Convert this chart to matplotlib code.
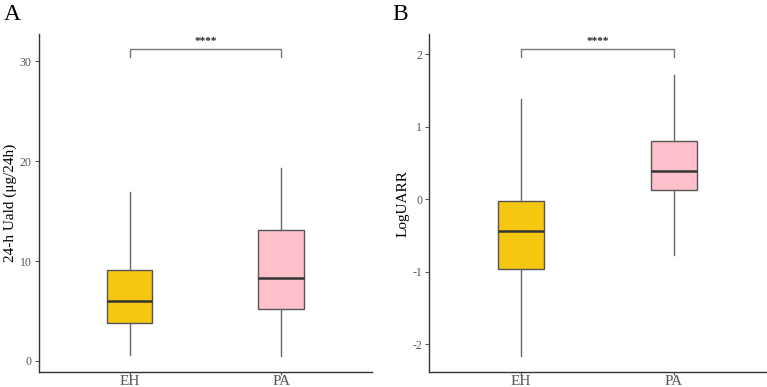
import matplotlib
matplotlib.use("Agg")
import matplotlib.pyplot as plt

plt.rcParams['font.family'] = ['Liberation Serif', 'DejaVu Serif']
plt.rcParams['axes.unicode_minus'] = False

groups = ["EH", "PA"]
box_colors = ["#F5C710", "#FFC0CB"]

# five-number summaries: low whisker, q1, median, q3, high whisker
uald_stats = {
    "EH": [0.6, 3.8, 6.0, 9.1, 16.9],
    "PA": [0.5, 5.2, 8.3, 13.1, 19.3],
}
uarr_stats = {
    "EH": [-2.16, -0.96, -0.44, -0.02, 1.38],
    "PA": [-0.76, 0.13, 0.39, 0.81, 1.71],
}

panels = [
    dict(stats=uald_stats, ylabel="24-h Uald (μg/24h)", yticks=[0, 10, 20, 30],
         ylim=(-1.1, 32.7), bracket=31.2, leg=30.4, tag="A"),
    dict(stats=uarr_stats, ylabel="LogUARR", yticks=[-2, -1, 0, 1, 2],
         ylim=(-2.38, 2.28), bracket=2.07, leg=1.96, tag="B"),
]

fig = plt.figure(figsize=(7.67, 3.87), dpi=100)
axes_rects = [[0.0505, 0.0388, 0.4345, 0.8732], [0.5593, 0.0388, 0.4394, 0.8732]]

for rect, p in zip(axes_rects, panels):
    ax = fig.add_axes(rect)
    bstats = []
    for g in groups:
        lo, q1, med, q3, hi = p["stats"][g]
        bstats.append(dict(label=g, whislo=lo, q1=q1, med=med, q3=q3, whishi=hi, fliers=[]))
    bp = ax.bxp(bstats, positions=[0, 1], widths=0.3, patch_artist=True, showfliers=False,
                showcaps=False,
                boxprops=dict(edgecolor="#555555", linewidth=1.0),
                whiskerprops=dict(color="#666666", linewidth=1.0),
                medianprops=dict(color="#333333", linewidth=1.8))
    for patch, c in zip(bp["boxes"], box_colors):
        patch.set_facecolor(c)

    # significance bracket
    ax.plot([0, 0, 1, 1], [p["leg"], p["bracket"], p["bracket"], p["leg"]],
            color="#777777", linewidth=1.0)
    ax.text(0.5, p["bracket"] + 0.01 * (p["ylim"][1] - p["ylim"][0]), "****",
            ha="center", va="bottom", fontsize=8, color="#222222", fontweight="bold")

    ax.set_xlim(-0.6, 1.6)
    ax.set_ylim(*p["ylim"])
    ax.set_yticks(p["yticks"])
    ax.set_xticks([0, 1])
    ax.set_xticklabels(groups)
    ax.tick_params(axis="y", labelsize=8.5, labelcolor="#555555", color="#555555", length=3, pad=2)
    ax.tick_params(axis="x", labelsize=11, labelcolor="#555555", color="#555555", length=2, pad=0.5)
    ax.set_ylabel(p["ylabel"], fontsize=11, labelpad=2)
    for s in ["top", "right"]:
        ax.spines[s].set_visible(False)
    for s in ["left", "bottom"]:
        ax.spines[s].set_color("#333333")
        ax.spines[s].set_linewidth(1.0)

fig.text(0.005, 0.962, "A", fontsize=17, ha="left", va="center")
fig.text(0.511, 0.962, "B", fontsize=17, ha="left", va="center")

fig.savefig("out.png", dpi=100)
